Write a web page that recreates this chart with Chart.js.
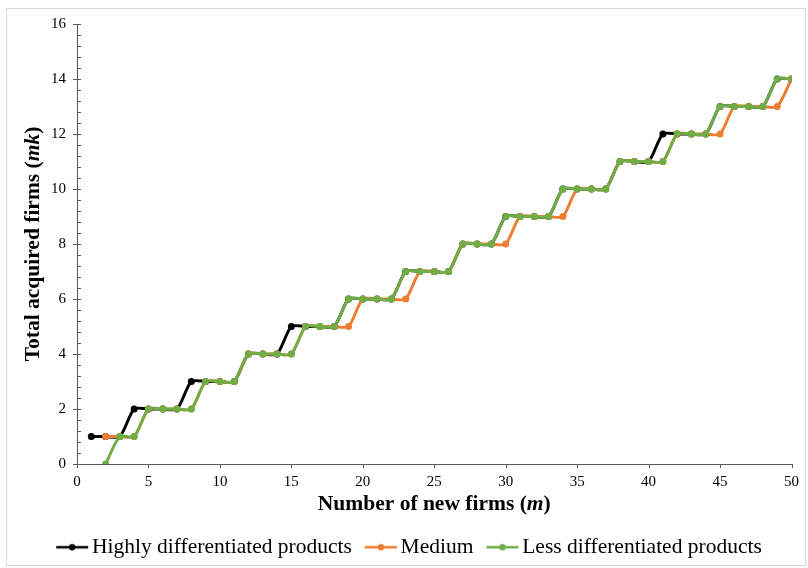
<!DOCTYPE html>
<html>
<head>
<meta charset="utf-8">
<script src="https://cdn.jsdelivr.net/npm/chart.js@4.4.0/dist/chart.umd.min.js"></script>
<style>
  html, body { margin: 0; padding: 0; background: #fff; }
  #wrap { width: 808px; height: 568px; }
</style>
</head>
<body>
<div id="wrap"><canvas id="firmsChart" width="808" height="568"></canvas></div>
<script>
// series data (y values start at the given m)
const seriesNames = ["Highly differentiated products", "Medium", "Less differentiated products"];
const highlyStart = 1;
const highlyValues = [1, 1, 1, 2, 2, 2, 2, 3, 3, 3, 3, 4, 4, 4, 5, 5, 5, 5, 6, 6, 6, 6, 7, 7, 7, 7, 8, 8, 8, 9, 9, 9, 9, 10, 10, 10, 10, 11, 11, 11, 12, 12, 12, 12, 13, 13, 13, 13, 14, 14];
const mediumStart = 2;
const mediumValues = [1, 1, 1, 2, 2, 2, 2, 3, 3, 3, 4, 4, 4, 4, 5, 5, 5, 5, 6, 6, 6, 6, 7, 7, 7, 8, 8, 8, 8, 9, 9, 9, 9, 10, 10, 10, 11, 11, 11, 11, 12, 12, 12, 12, 13, 13, 13, 13, 14];
const lessStart = 2;
const lessValues = [0, 1, 1, 2, 2, 2, 2, 3, 3, 3, 4, 4, 4, 4, 5, 5, 5, 6, 6, 6, 6, 7, 7, 7, 7, 8, 8, 8, 9, 9, 9, 9, 10, 10, 10, 10, 11, 11, 11, 11, 12, 12, 12, 13, 13, 13, 13, 14, 14];
const seriesColors = ["#000000", "#ED7D31", "#70AD47"];
const xTicks = [0, 5, 10, 15, 20, 25, 30, 35, 40, 45, 50];
const yTicks = [0, 2, 4, 6, 8, 10, 12, 14, 16];

const serif = "'Times New Roman', 'Liberation Serif', serif";
const axisColor = "#595959";

const toPoints = (start, values) => values.map((v, i) => ({ x: start + i, y: v }));

// little line+dot marker for the legend
const makeMarker = (color) => {
  const c = document.createElement("canvas");
  c.width = 38; c.height = 10;
  const g = c.getContext("2d");
  g.strokeStyle = color; g.lineWidth = 2.5;
  g.beginPath(); g.moveTo(4, 5); g.lineTo(36, 5); g.stroke();
  g.fillStyle = color;
  g.beginPath(); g.arc(20, 5, 3.2, 0, Math.PI * 2); g.fill();
  return c;
};

const isMajor = (v) => Math.abs(Math.round(v / 2) * 2 - v) < 1e-6;

// draws a line of text made of parts that may be italic
const drawParts = (ctx, parts, size) => {
  let total = 0;
  parts.forEach(p => {
    ctx.font = (p.italic ? "italic " : "") + "bold " + size + "px " + serif;
    p.w = ctx.measureText(p.t).width;
    total += p.w;
  });
  let x = -total / 2;
  parts.forEach(p => {
    ctx.font = (p.italic ? "italic " : "") + "bold " + size + "px " + serif;
    ctx.fillText(p.t, x, 0);
    x += p.w;
  });
};

const extrasPlugin = {
  id: "extras",
  afterLayout(chart) {
    // the reference legend sits a bit right of centre
    chart.legend.left += 14;
    chart.legend.right += 14;
  },
  beforeDraw(chart) {
    const ctx = chart.ctx;
    ctx.save();
    ctx.strokeStyle = "#d9d9d9";
    ctx.lineWidth = 1;
    ctx.strokeRect(6.5, 8.5, 799, 557);
    ctx.restore();
  },
  afterDraw(chart) {
    const ctx = chart.ctx;
    const area = chart.chartArea;
    ctx.save();
    ctx.fillStyle = "#000";
    ctx.textBaseline = "middle";
    ctx.textAlign = "left";
    // x axis title
    ctx.save();
    ctx.translate((area.left + area.right) / 2, 504);
    drawParts(ctx, [{ t: "Number of new firms (" }, { t: "m", italic: true }, { t: ")" }], 21.5);
    ctx.restore();
    // y axis title
    ctx.save();
    ctx.translate(33, (area.top + area.bottom) / 2);
    ctx.rotate(-Math.PI / 2);
    drawParts(ctx, [{ t: "Total acquired firms (" }, { t: "mk", italic: true }, { t: ")" }], 21.5);
    ctx.restore();
    // tick marks
    const xs = chart.scales.x, ys = chart.scales.y;
    ctx.strokeStyle = axisColor;
    ctx.lineWidth = 1;
    ctx.beginPath();
    ys.ticks.forEach(t => {
      const py = Math.round(ys.getPixelForValue(t.value)) + 0.5;
      if (isMajor(t.value)) {
        ctx.moveTo(area.left - 4, py); ctx.lineTo(area.left + 4, py);
      } else {
        ctx.moveTo(area.left, py); ctx.lineTo(area.left + 4, py);
      }
    });
    xTicks.forEach(v => {
      const px = Math.round(xs.getPixelForValue(v)) + 0.5;
      ctx.moveTo(px, area.bottom); ctx.lineTo(px, area.bottom + 4);
    });
    ctx.stroke();
    ctx.restore();
  }
};

const ctx = document.getElementById("firmsChart").getContext("2d");
const myChart = new Chart(ctx, {
  type: "line",
  data: {
    datasets: [
      { label: seriesNames[0], data: toPoints(highlyStart, highlyValues), order: 3 },
      { label: seriesNames[1], data: toPoints(mediumStart, mediumValues), order: 2 },
      { label: seriesNames[2], data: toPoints(lessStart, lessValues), order: 1 },
    ].map((d, i) => Object.assign(d, {
      borderColor: seriesColors[i],
      backgroundColor: seriesColors[i],
      borderWidth: 3,
      pointRadius: 3.5,
      pointBorderWidth: 0,
      pointHoverRadius: 3.5,
      tension: 0.25,
      fill: false,
    })),
  },
  options: {
    responsive: false,
    animation: false,
    layout: { padding: { left: 0, right: 13, top: 24, bottom: 0 } },
    plugins: {
      tooltip: { enabled: false },
      legend: {
        position: "bottom",
        labels: {
          usePointStyle: true,
          pointStyleWidth: 20,
          padding: 18,
          color: "#000",
          font: { family: serif, size: 21.5 },
          generateLabels(chart) {
            return chart.data.datasets.map((d, i) => ({
              text: d.label,
              pointStyle: makeMarker(seriesColors[i]),
              fillStyle: seriesColors[i],
              strokeStyle: seriesColors[i],
              lineWidth: 0,
              hidden: false,
              datasetIndex: i,
              fontColor: "#000",
            }));
          },
        },
      },
    },
    scales: {
      x: {
        type: "linear",
        min: 0,
        max: 50,
        afterFit(s) { s.height = 568 - 464 - s.chart.legend.height; },
        afterBuildTicks(s) { s.ticks = xTicks.map(v => ({ value: v })); },
        grid: { drawOnChartArea: false, drawTicks: false },
        border: { display: true, color: axisColor, width: 1 },
        ticks: { padding: 9, color: "#000", font: { family: serif, size: 15 }, autoSkip: false, maxRotation: 0 },
      },
      y: {
        min: 0,
        max: 16,
        afterFit(s) { s.width = 77; },
        ticks: {
          stepSize: 0.4,
          autoSkip: false,
          padding: 11,
          color: "#000",
          font: { family: serif, size: 15 },
          callback: (v) => isMajor(v) ? String(Math.round(v)) : "",
        },
        grid: { drawOnChartArea: false, drawTicks: false },
        border: { display: true, color: axisColor, width: 1 },
      },
    },
  },
  plugins: [extrasPlugin],
});
</script>
</body>
</html>
